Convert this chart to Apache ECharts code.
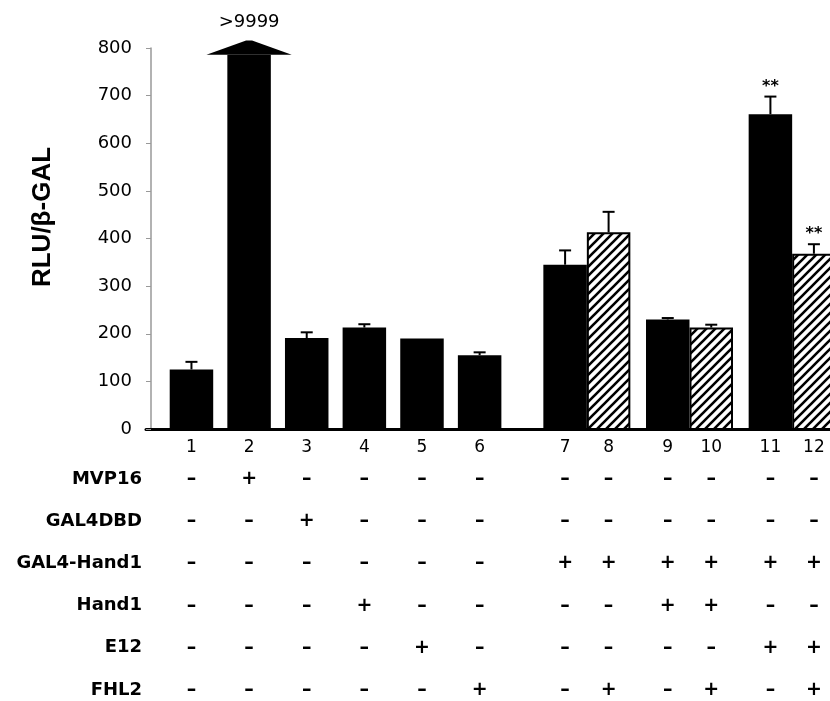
<!DOCTYPE html>
<html>
<head>
<meta charset="utf-8">
<script src="https://cdn.jsdelivr.net/npm/echarts@6/dist/echarts.min.js"></script>
<style>
  html, body { margin: 0; padding: 0; background: #fff; }
  #chart { width: 830px; height: 701px; }
</style>
</head>
<body>
<div id="chart"></div>
<script>
// lanes and RLU/beta-GAL readings
const lanes = ['1', '2', '3', '4', '5', '6', '7', '8', '9', '10', '11', '12'];
const rluValues = [125, 9999, 191, 213, 190, 155, 345, 413, 230, 213, 661, 368];
const rluErrors = [16, 0, 12, 7, 0, 6, 30, 43, 3, 6, 37, 20];
const hatchedLanes = [0, 0, 0, 0, 0, 0, 0, 1, 0, 1, 0, 1];
const significance = ['', '', '', '', '', '', '', '', '', '', '**', '**'];

// y axis ticks
const yMin = 0;
const yMax = 800;
const yStep = 100;

// transfection table under the axis
const rowNames = ['MVP16', 'GAL4DBD', 'GAL4-Hand1', 'Hand1', 'E12', 'FHL2'];
const mvp16     = ['-', '+', '-', '-', '-', '-', '-', '-', '-', '-', '-', '-'];
const gal4dbd   = ['-', '-', '+', '-', '-', '-', '-', '-', '-', '-', '-', '-'];
const gal4Hand1 = ['-', '-', '-', '-', '-', '-', '+', '+', '+', '+', '+', '+'];
const hand1     = ['-', '-', '-', '+', '-', '-', '-', '-', '+', '+', '-', '-'];
const e12       = ['-', '-', '-', '-', '+', '-', '-', '-', '-', '-', '+', '+'];
const fhl2      = ['-', '-', '-', '-', '-', '+', '-', '+', '-', '+', '-', '+'];
const tableRows = [mvp16, gal4dbd, gal4Hand1, hand1, e12, fhl2];

// x layout in bar widths: lanes 7-12 are touching pairs, wider gap before lane 7
const laneGroup = [1, 2, 3, 4, 5, 6, 7, 7, 8, 8, 9, 9];
const barX = [];
laneGroup.forEach(function (g, i) {
    if (i === 0) barX.push(0.93);
    else if (g === laneGroup[i - 1]) barX.push(barX[i - 1] + 1);
    else if (i === 6) barX.push(barX[i - 1] + 1.965);
    else barX.push(barX[i - 1] + (i < 6 ? 1.325 : 1.36));
});
const xMin = -0.115;
const xMax = 15.61;

const FONT = 'DejaVu Sans';

// diagonal hatch tile
const hatch = document.createElement('canvas');
hatch.width = 9;
hatch.height = 9;
(function () {
    const c = hatch.getContext('2d');
    c.fillStyle = '#fff';
    c.fillRect(0, 0, 9, 9);
    c.strokeStyle = '#000';
    c.lineWidth = 2.6;
    c.beginPath();
    c.moveTo(-2, 11); c.lineTo(11, -2);
    c.moveTo(-2, 2); c.lineTo(2, -2);
    c.moveTo(7, 11); c.lineTo(11, 7);
    c.stroke();
})();

function renderBar(params, api) {
    const x = api.value(0);
    const v = api.value(1);
    const err = api.value(2);
    const hatched = api.value(3);
    const i = api.value(4);
    const w = api.size([1, 0])[0];
    const base = api.coord([x, 0]);
    const cx = base[0];
    const children = [];
    if (v > yMax) {
        // off-scale lane: arrow through the top of the axis
        const neck = api.coord([x, yMax - 14]);
        const tip = api.coord([x, yMax + 16]);
        children.push({ type: 'rect', shape: { x: cx - w / 2, y: neck[1], width: w, height: base[1] - neck[1] }, style: { fill: '#000' } });
        children.push({ type: 'polygon', shape: { points: [[cx - w * 0.98, neck[1]], [cx - 3, tip[1]], [cx + 3, tip[1]], [cx + w * 0.98, neck[1]]] }, style: { fill: '#000' } });
        children.push({ type: 'text', x: cx, y: tip[1] - 18, style: { text: '>' + v, fill: '#000', fontSize: 18, fontFamily: FONT, align: 'center', verticalAlign: 'middle' } });
        return { type: 'group', children: children };
    }
    const top = api.coord([x, v]);
    if (hatched) {
        children.push({ type: 'rect', shape: { x: cx - w / 2 + 1, y: top[1] + 1, width: w - 2, height: base[1] - top[1] - 1 },
            style: { fill: { image: hatch, repeat: 'repeat' }, stroke: '#000', lineWidth: 2 } });
    } else {
        children.push({ type: 'rect', shape: { x: cx - w / 2, y: top[1], width: w, height: base[1] - top[1] }, style: { fill: '#000' } });
    }
    let markTop = top[1];
    if (err > 0) {
        const et = api.coord([x, v + err]);
        children.push({ type: 'line', shape: { x1: cx, y1: top[1], x2: cx, y2: et[1] }, style: { stroke: '#000', lineWidth: 2 } });
        children.push({ type: 'line', shape: { x1: cx - 6, y1: et[1], x2: cx + 6, y2: et[1] }, style: { stroke: '#000', lineWidth: 2 } });
        markTop = et[1];
    }
    if (significance[i]) {
        children.push({ type: 'text', x: cx, y: markTop - 10, style: { text: significance[i], fill: '#000', fontSize: 16, fontWeight: 'bold', fontFamily: FONT, align: 'center', verticalAlign: 'middle' } });
    }
    return { type: 'group', children: children };
}

function renderSign(params, api) {
    const p = api.coord([api.value(0), api.value(1)]);
    const s = tableRows[api.value(1)][api.value(2)];
    return { type: 'text', x: p[0], y: p[1], style: { text: s === '-' ? '\u2013' : s, fill: '#000', fontSize: 19, fontWeight: 'bold', fontFamily: FONT, align: 'center', verticalAlign: 'middle' } };
}

const barData = rluValues.map(function (v, i) { return [barX[i], v, rluErrors[i], hatchedLanes[i], i]; });
const signData = [];
tableRows.forEach(function (row, r) {
    row.forEach(function (s, i) { signData.push([barX[i], r, i]); });
});

const chart = echarts.init(document.getElementById('chart'));
chart.setOption({
    animation: false,
    backgroundColor: '#fff',
    grid: [
        { left: 146, right: 0, top: 48, height: 381 },
        { left: 146, right: 0, top: 479, height: 211 }
    ],
    graphic: [{
        type: 'text', x: 43, y: 217, rotation: Math.PI / 2,
        style: { text: 'RLU/\u03b2-GAL', fill: '#000', fontSize: 26, fontWeight: 'bold', fontFamily: 'Liberation Sans', align: 'center', verticalAlign: 'middle' }
    }],
    xAxis: [
        {
            gridIndex: 0, type: 'value', min: xMin, max: xMax,
            axisLine: { lineStyle: { color: '#000', width: 3 } },
            axisTick: { show: false },
            splitLine: { show: false },
            axisLabel: {
                customValues: barX,
                margin: 10, color: '#000', fontSize: 17, fontFamily: FONT,
                formatter: function (val) {
                    let k = 0;
                    barX.forEach(function (bx, j) { if (Math.abs(bx - val) < Math.abs(barX[k] - val)) k = j; });
                    return lanes[k];
                }
            }
        },
        { gridIndex: 1, type: 'value', min: xMin, max: xMax, show: false }
    ],
    yAxis: [
        {
            gridIndex: 0, type: 'value', min: yMin, max: yMax, interval: yStep,
            axisLine: { show: true, onZero: true, lineStyle: { color: '#999', width: 1.5 } },
            axisTick: { show: true, length: 5, lineStyle: { color: '#999' } },
            splitLine: { show: false },
            axisLabel: { margin: 14, color: '#000', fontSize: 18, fontFamily: FONT }
        },
        {
            gridIndex: 1, type: 'category', data: rowNames, inverse: true, boundaryGap: false,
            axisLine: { show: false, onZero: false }, axisTick: { show: false },
            axisLabel: { margin: 4, color: '#000', fontSize: 18, fontWeight: 'bold', fontFamily: FONT }
        }
    ],
    series: [
        { type: 'custom', xAxisIndex: 0, yAxisIndex: 0, renderItem: renderBar, data: barData, clip: false, encode: { x: 0, y: 1 } },
        { type: 'custom', xAxisIndex: 1, yAxisIndex: 1, renderItem: renderSign, data: signData, clip: false, encode: { x: 0, y: 1 } }
    ]
});
</script>
</body>
</html>
